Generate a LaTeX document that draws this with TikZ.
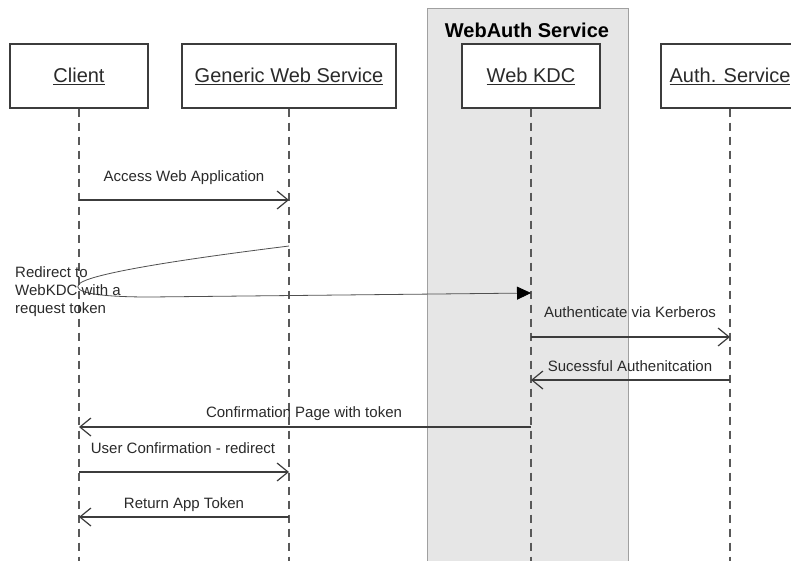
\documentclass[tikz,border=0pt]{standalone}
\usepackage{fontspec}
\setmainfont{Liberation Sans}
\usetikzlibrary{arrows.meta}
\definecolor{ln}{HTML}{3C3C3C}
\definecolor{grp}{HTML}{E6E6E6}
\definecolor{grpb}{HTML}{A0A0A0}
\definecolor{txt}{HTML}{2A2A2A}
\begin{document}
\begin{tikzpicture}[x=1pt,y=-1pt,
  actor/.style={draw=ln, line width=1.1pt, fill=white, minimum width=138pt, minimum height=64pt, inner sep=0pt, font=\fontsize{20}{24}\selectfont, text=txt},
  life/.style={draw=ln!85, line width=1.4pt, dash pattern=on 8pt off 6pt},
  msg/.style={draw=ln, line width=1.2pt, -{Straight Barb[length=11pt,width=18pt]}},
  lbl/.style={anchor=base, font=\fontsize{15}{18}\selectfont, text=txt, inner sep=0pt},
]
\useasboundingbox (0,0) rectangle (791,560);
\clip (0,0) rectangle (791,560);
\fill[white] (0,0) rectangle (791,560);

% group
\node[draw=grpb, fill=grp, line width=1pt, minimum width=201pt, minimum height=600pt, anchor=north, inner sep=0pt] (wa) at (527.5,8) {};
\node[anchor=base, font=\fontsize{20}{24}\selectfont\bfseries, text=black, inner sep=0pt] (watitle) at (527,37) {WebAuth Service};

% actors
\node[actor] (client) at (79,76) {\underline{Client}};
\node[actor, minimum width=214pt] (gws) at (289,76) {\underline{Generic Web Service}};
\node[actor] (kdc) at (531,76) {\underline{Web KDC}};
\node[actor] (auth) at (730,76) {\underline{Auth. Service}};

% lifeline ends
\coordinate (clientend) at (79,565);
\coordinate (gwsend) at (289,565);
\coordinate (kdcend) at (531,565);
\coordinate (authend) at (730,565);
\draw[life] (client.south) -- (clientend);
\draw[life] (gws.south) -- (gwsend);
\draw[life] (kdc.south) -- (kdcend);
\draw[life] (auth.south) -- (authend);

% message points
\coordinate (c1) at (79,200);  \coordinate (g1) at (289,200);
\coordinate (g2) at (289,246); \coordinate (k2) at (531,293);
\coordinate (k3) at (531,337); \coordinate (a3) at (730,337);
\coordinate (a4) at (730,380); \coordinate (k4) at (531,380);
\coordinate (k5) at (531,427); \coordinate (c5) at (79,427);
\coordinate (c6) at (79,472);  \coordinate (g6) at (289,472);
\coordinate (g7) at (289,517); \coordinate (c7) at (79,517);

% messages
\draw[msg] (c1) -- (g1);
\node[lbl] (l1) at (184,181) {Access Web Application};

\draw[draw=ln!90, line width=0.8pt, -{Triangle[length=14pt,width=13pt,color=black,fill=black]}]
  (g2) .. controls (160,262) and (88,275) .. (79,284)
       .. controls (72,292) and (95,297) .. (150,297) -- (k2);
\node[anchor=west, align=left, font=\fontsize{15}{18}\selectfont, text=txt, inner sep=0pt] (l2) at (15,292) {Redirect to\\WebKDC with a\\request token};

\draw[msg] (k3) -- (a3);
\node[lbl] (l3) at (630,317.5) {Authenticate via Kerberos};

\draw[msg] (a4) -- (k4);
\node[lbl] (l4) at (630,371) {Sucessful Authenitcation};

\draw[msg] (k5) -- (c5);
\node[lbl] (l5) at (304,417.5) {Confirmation Page with token};

\draw[msg] (c6) -- (g6);
\node[lbl] (l6) at (183,453.5) {User Confirmation - redirect};

\draw[msg] (g7) -- (c7);
\node[lbl] (l7) at (184,508.5) {Return App Token};
\end{tikzpicture}
\end{document}
